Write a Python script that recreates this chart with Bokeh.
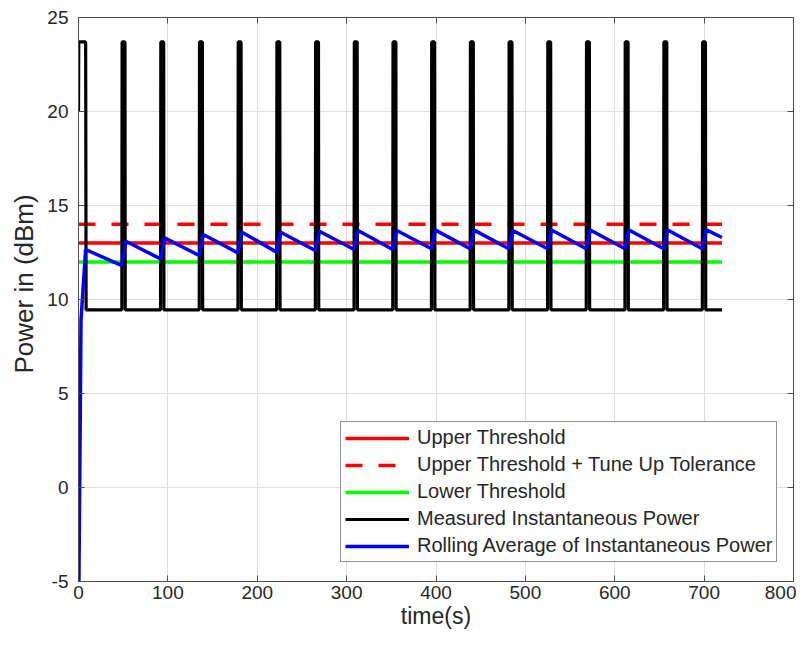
from bokeh.plotting import figure
from bokeh.models import Range1d, LinearAxis, FixedTicker, Title
from bokeh.embed import file_html
from bokeh.resources import INLINE

# ---------------- data ----------------
x_ticks = [0, 100, 200, 300, 400, 500, 600, 700, 800]
x_tick_labels = ["0", "100", "200", "300", "400", "500", "600", "700", "800"]
y_ticks = [-5, 0, 5, 10, 15, 20, 25]
y_tick_labels = ["-5", "0", "5", "10", "15", "20", "25"]

t_end = 720
upper_threshold = 13.0
upper_tol = 14.0
lower_threshold = 12.0

# measured instantaneous power: first burst then periodic bursts
first_burst = [(0, 20.0), (0.3, 23.7), (8, 23.7), (8.5, 9.45)]
spike_start = [48.5, 91.8, 135.1, 178.4, 221.7, 265.0, 308.3, 351.6, 394.9,
               438.2, 481.5, 524.8, 568.1, 611.4, 654.7, 698.0]
spike_len = 3.8
peak_level = 23.7
base_level = 9.45

# rolling average of instantaneous power
avg_t = [0.3, 2.8, 8, 48.5, 53, 91.8, 96.3, 135.1, 139.6, 178.4, 182.9,
         221.7, 226.2, 265.0, 269.5, 308.3, 312.8, 351.6, 356.1, 394.9, 399.4,
         438.2, 442.7, 481.5, 486.0, 524.8, 529.3, 568.1, 572.6, 611.4, 615.9,
         654.7, 659.2, 698.0, 702.5, 720]
avg_v = [-6.0, 8.9, 12.66, 11.8, 13.1, 12.16, 13.28, 12.34, 13.46, 12.48, 13.58,
         12.52, 13.58, 12.61, 13.63, 12.66, 13.67, 12.66, 13.67, 12.7, 13.69,
         12.7, 13.69, 12.7, 13.67, 12.7, 13.7, 12.7, 13.7, 12.7, 13.7,
         12.7, 13.7, 12.7, 13.7, 13.3]

# build the measured line
meas_t = [p[0] for p in first_burst]
meas_v = [p[1] for p in first_burst]
for s in spike_start:
    meas_t += [s, s + 0.3, s + spike_len - 0.3, s + spike_len]
    meas_v += [base_level, peak_level, peak_level, base_level]
meas_t.append(t_end)
meas_v.append(base_level)

FONT = "Liberation Sans"
TXT = "#262626"
AX = "#4d4d4d"

p = figure(width=796, height=633, output_backend="svg", toolbar_location=None,
           x_range=Range1d(0, 800), y_range=Range1d(-5, 25),
           min_border_left=78, min_border_right=3, min_border_top=17,
           min_border_bottom=52)
p.background_fill_color = "white"
p.border_fill_color = "white"
p.outline_line_color = AX
p.outline_line_width = 1

# grid
p.xgrid.ticker = FixedTicker(ticks=x_ticks)
p.ygrid.ticker = FixedTicker(ticks=y_ticks)
for g in (p.xgrid, p.ygrid):
    g.grid_line_color = "#dedede"
    g.grid_line_width = 1

# axes
xa = p.xaxis[0]
ya = p.yaxis[0]
xa.ticker = FixedTicker(ticks=x_ticks)
ya.ticker = FixedTicker(ticks=y_ticks)
xa.major_label_overrides = {v: l for v, l in zip(x_ticks, x_tick_labels)}
ya.major_label_overrides = {v: l for v, l in zip(y_ticks, y_tick_labels)}
xa.axis_label = "time(s)"
for a in (xa, ya):
    a.axis_line_color = AX
    a.major_tick_line_color = AX
    a.major_tick_in = 6
    a.major_tick_out = 0
    a.minor_tick_line_color = None
    a.major_label_text_font = FONT
    a.major_label_text_font_size = "19px"
    a.major_label_text_color = TXT
    a.axis_label_text_font = FONT
    a.axis_label_text_font_style = "normal"
    a.axis_label_text_color = TXT
xa.axis_label_text_font_size = "23px"
xa.major_label_standoff = 4
ya.major_label_standoff = 10
xa.axis_label_standoff = 1

# y axis title placed like the reference (slightly above frame centre)
ytitle = Title(text="Power in (dBm)", align="left", offset=208,
               text_font=FONT, text_font_size="26px", text_color=TXT,
               text_font_style="normal", standoff=12)
p.add_layout(ytitle, "left")

# top/right tick marks (no labels)
for side in ("above", "right"):
    ax = LinearAxis(ticker=FixedTicker(ticks=x_ticks if side == "above" else y_ticks),
                    major_label_text_font_size="0px", major_label_standoff=0,
                    major_tick_in=6, major_tick_out=0,
                    minor_tick_line_color=None, axis_line_color=AX,
                    major_tick_line_color=AX)
    p.add_layout(ax, side)

# lines
p.line([0, t_end], [upper_threshold, upper_threshold], line_color="#ff0000",
       line_width=3.5, legend_label="Upper Threshold")
p.line([0, t_end], [upper_tol, upper_tol], line_color="#ff0000", line_width=3.5,
       line_dash="17 16", legend_label="Upper Threshold + Tune Up Tolerance")
p.line([0, t_end], [lower_threshold, lower_threshold], line_color="#00ff00",
       line_width=3.5, legend_label="Lower Threshold")
p.line(meas_t, meas_v, line_color="black", line_width=3.2,
       legend_label="Measured Instantaneous Power")
p.line(avg_t, avg_v, line_color="#0000ff", line_width=3.5,
       legend_label="Rolling Average of Instantaneous Power")

lg = p.legend[0]
lg.location = (262, 19)
lg.margin = 0
lg.padding = 4
lg.spacing = 4
lg.glyph_width = 64
lg.glyph_height = 20
lg.label_height = 20
lg.label_standoff = 8
lg.label_text_font = FONT
lg.label_text_font_size = "20px"
lg.label_text_color = TXT
lg.border_line_color = "#262626"
lg.border_line_width = 1
lg.background_fill_color = "white"
lg.background_fill_alpha = 1
lg.click_policy = "none"

open("out.html", "w").write(file_html(p, INLINE))
